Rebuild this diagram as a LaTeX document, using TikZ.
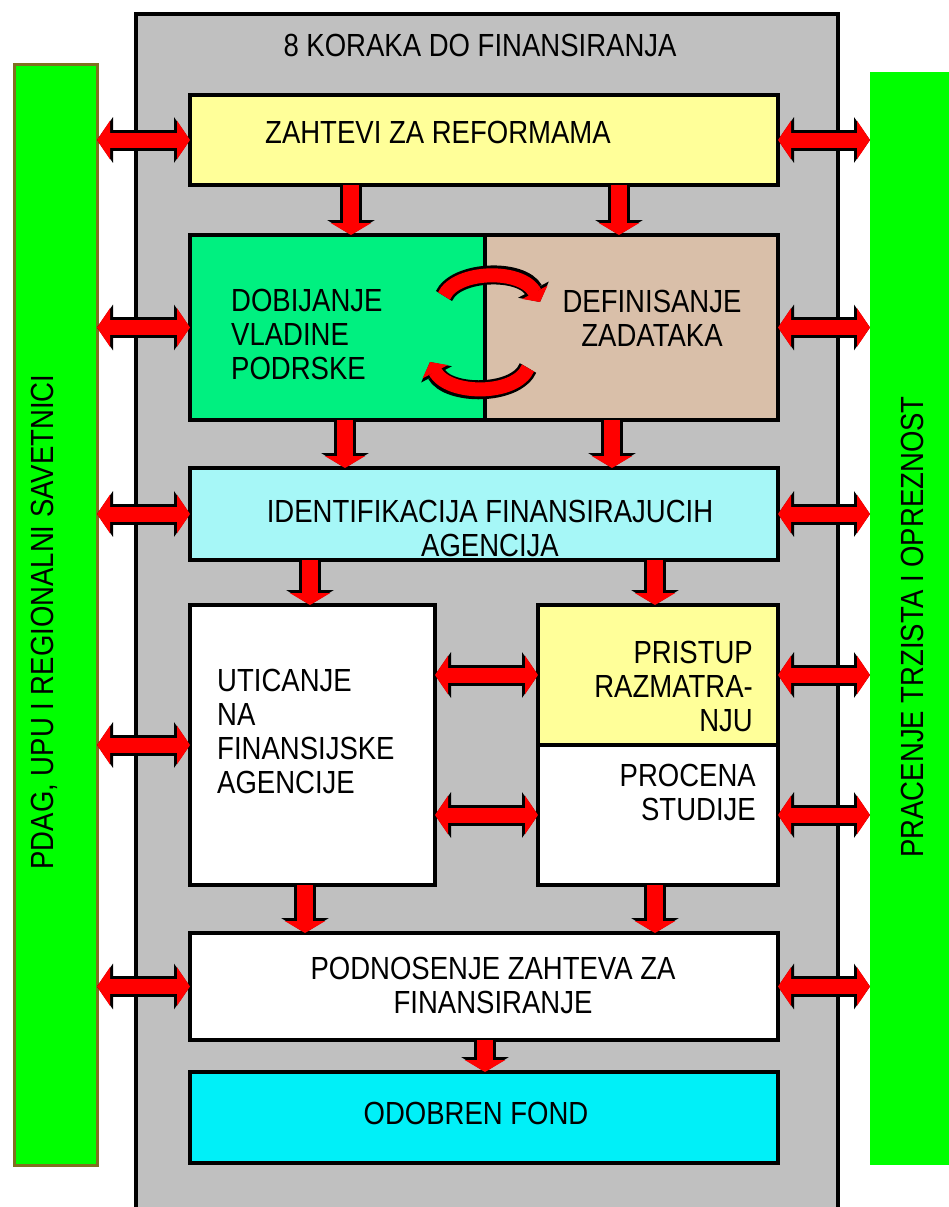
\documentclass[tikz,border=0pt]{standalone}
\usepackage{fontspec}
\setmainfont{Liberation Sans}[FakeStretch=0.86]
\usetikzlibrary{arrows.meta, positioning}

\definecolor{okvirsiva}{HTML}{C0C0C0}
\definecolor{zuta}{HTML}{FFFF99}
\definecolor{zelena}{HTML}{00F080}
\definecolor{bez}{HTML}{D9BFA9}
\definecolor{svetlocijan}{HTML}{A6F7F7}
\definecolor{cijan}{HTML}{00F0F8}
\definecolor{trakazelena}{HTML}{00FF00}
\definecolor{trakaivica}{HTML}{807020}
\definecolor{strelcrvena}{HTML}{FF0000}

\newcommand{\boxfont}{\fontsize{32}{34}\selectfont}

\tikzset{
  korak/.style={draw=black, line width=4pt, rectangle, inner sep=0pt, outer sep=0pt, anchor=north west},
  tekst/.style={font=\boxfont, inner sep=0pt},
  obostrano/.style={draw=strelcrvena, line width=15pt,
    {Triangle[length=13pt,width=38pt]}-{Triangle[length=13pt,width=38pt]},
    preaction={draw=black, line width=21pt,
      {Triangle[length=16pt,width=45pt]}-{Triangle[length=16pt,width=45pt]}}},
  dole/.style={draw=strelcrvena, line width=16pt,
    -{Triangle[length=12pt,width=40pt]},
    preaction={draw=black, line width=22pt, -{Triangle[length=15pt,width=47pt]}}},
  kriva/.style={draw=strelcrvena, line width=14pt,
    -{Triangle[length=11pt,width=28pt]},
    preaction={draw=black, line width=19pt, -{Triangle[length=14pt,width=34pt]}}}
}

\begin{document}
\begin{tikzpicture}[x=1pt, y=-1pt]
\useasboundingbox (0,0) rectangle (948,1207);

% okvir i bocne trake
\node[korak, fill=okvirsiva, minimum width=702, minimum height=1200] (okvir) at (136,14) {};
\node[korak, draw=trakaivica, line width=3pt, fill=trakazelena, minimum width=83, minimum height=1100] (savetnici) at (14,65) {};
\node[korak, draw=none, fill=trakazelena, minimum width=90, minimum height=1093] (trziste) at (870,72) {};
\node[tekst, rotate=90] (t-savetnici) at (44,622) {PDAG, UPU I REGIONALNI SAVETNICI};
\node[tekst, rotate=90] (t-trziste) at (912,627) {PRACENJE TRZISTA I OPREZNOST};

\node[tekst] (naslov) at (480,45) {8 KORAKA DO FINANSIRANJA};

% koraci
\node[korak, fill=zuta, minimum width=588, minimum height=90] (zahtevi) at (190,95) {};
\node[korak, fill=zelena, minimum width=295, minimum height=185] (vlada) at (190,235) {};
\node[korak, fill=bez, minimum width=293, minimum height=185] (zadaci) at (485,235) {};
\node[korak, fill=svetlocijan, minimum width=588, minimum height=92] (identif) at (190,468) {};
\node[korak, fill=white, minimum width=245, minimum height=280] (uticanje) at (190,605) {};
\node[korak, fill=zuta, minimum width=240, minimum height=140] (pristup) at (538,605) {};
\node[korak, fill=white, minimum width=240, minimum height=140] (procena) at (538,745) {};
\node[korak, fill=white, minimum width=588, minimum height=107] (podnosenje) at (190,933) {};
\node[korak, fill=cijan, minimum width=588, minimum height=91] (odobren) at (190,1072) {};

% tekstovi
\node[tekst, anchor=west] (t-zahtevi) at (265,132) {ZAHTEVI ZA REFORMAMA};
\node[tekst, anchor=west, align=left] (t-vlada) at (231,334) {DOBIJANJE\\VLADINE\\PODRSKE};
\node[tekst, align=center] (t-zadaci) at (652,318) {DEFINISANJE\\ ZADATAKA};
\node[tekst, align=center] (t-identif) at (490,528) {IDENTIFIKACIJA FINANSIRAJUCIH\\AGENCIJA};
\node[tekst, anchor=west, align=left] (t-uticanje) at (217,731) {UTICANJE\\NA\\FINANSIJSKE\\AGENCIJE};
\node[tekst, anchor=east, align=right] (t-pristup) at (753,686) {PRISTUP\\RAZMATRA-\\NJU};
\node[tekst, anchor=east, align=right] (t-procena) at (756,792) {PROCENA\\STUDIJE};
\node[tekst, align=center] (t-podnosenje) at (493,985) {PODNOSENJE ZAHTEVA ZA\\FINANSIRANJE};
\node[tekst] (t-odobren) at (476,1113) {ODOBREN FOND};

% strelice nadole
\foreach \od/\ka/\x in {zahtevi/vlada/351, zahtevi/zadaci/619, vlada/identif/345, zadaci/identif/612,
    identif/uticanje/310, identif/pristup/655, uticanje/podnosenje/305, procena/podnosenje/655,
    podnosenje/odobren/485}
  \draw[dole] (\x,0 |- \od.south) -- (\x,0 |- \ka.north);

% bocne strelice
\foreach \k in {zahtevi, vlada, identif, uticanje, podnosenje}
  \draw[obostrano] (savetnici.east |- \k) -- (\k.west);
\foreach \k in {zahtevi, zadaci, identif, pristup, procena, podnosenje}
  \draw[obostrano] (\k.east) -- (trziste.west |- \k);
\draw[obostrano] (uticanje.east |- pristup) -- (pristup.west);
\draw[obostrano] (uticanje.east |- procena) -- (procena.west);

% kruzne strelice
\draw[kriva] (444,296) .. controls (456,270) and (522,268) .. (540,302);
\draw[kriva] (528,368) .. controls (516,396) and (448,396) .. (430,362);
\end{tikzpicture}
\end{document}
